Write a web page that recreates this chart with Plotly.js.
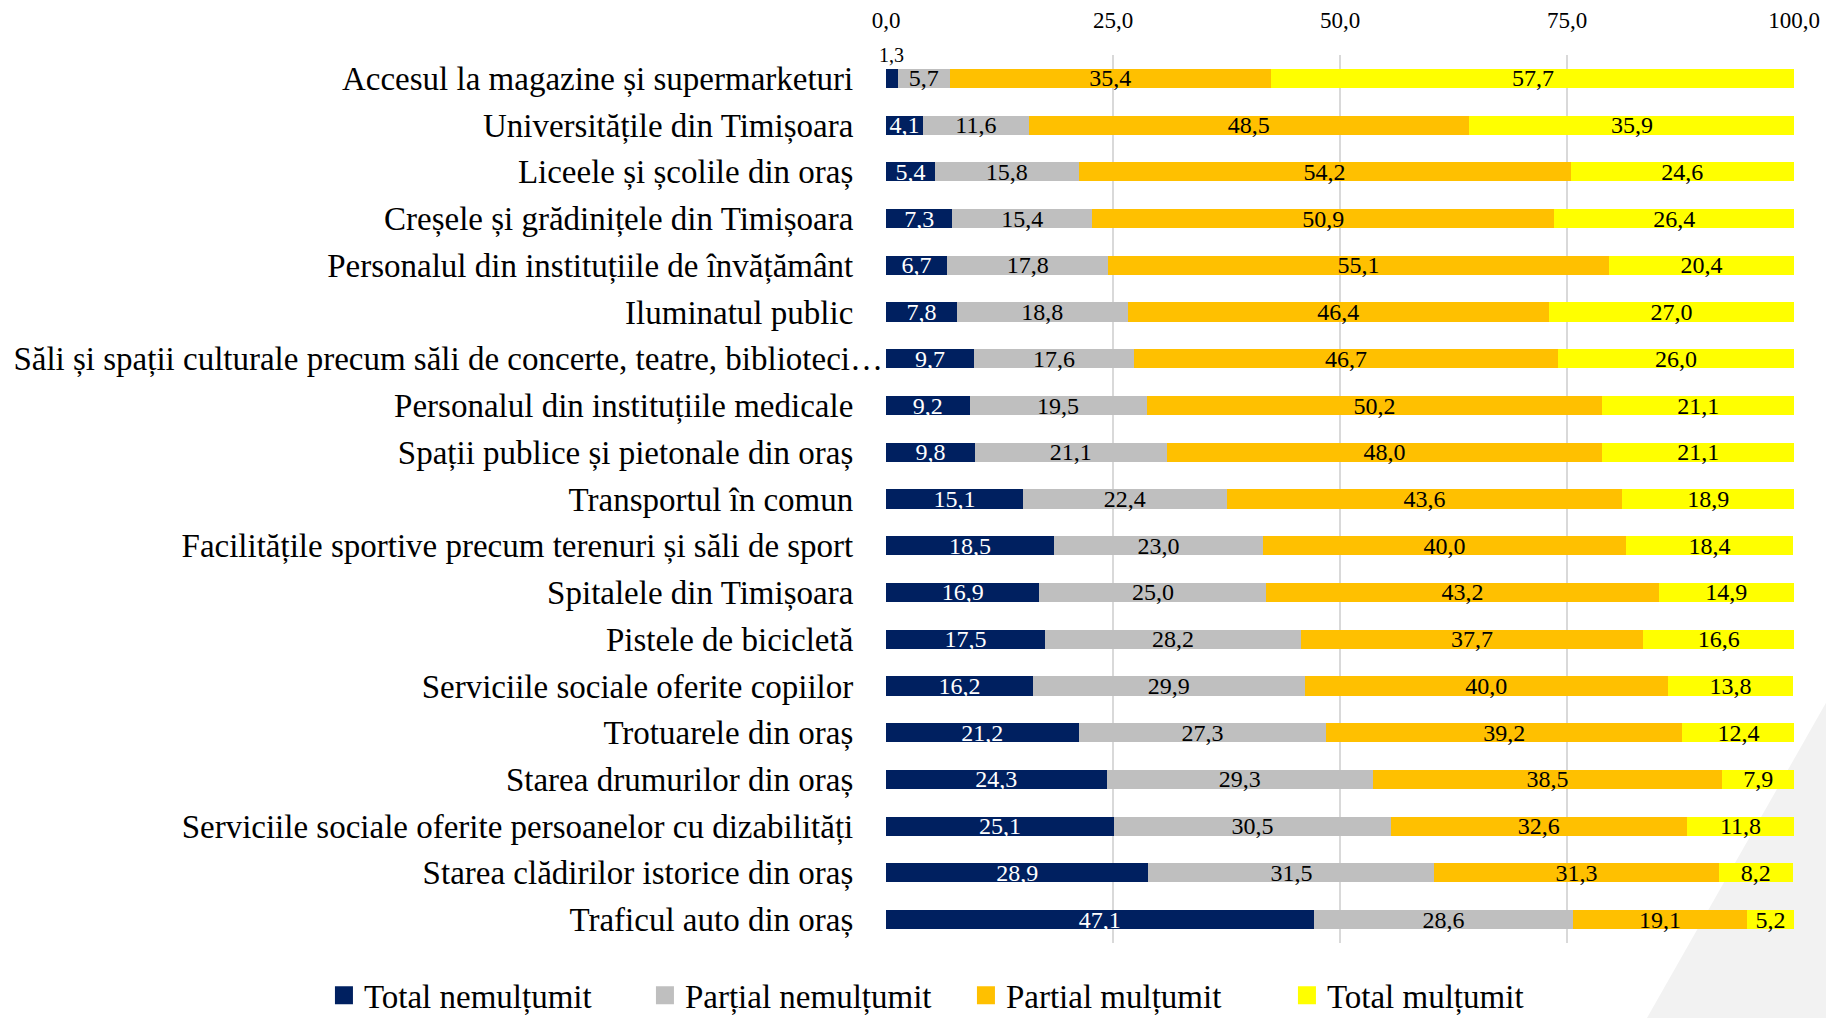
<!DOCTYPE html>
<html>
<head>
<meta charset="utf-8">
<script src="https://cdn.plot.ly/plotly-3.0.1.min.js"></script>
<style>html,body{margin:0;padding:0;background:#fff;}#chart{width:1826px;height:1018px;}</style>
</head>
<body>
<div id="chart"></div>
<script>
const categories = [
  "Accesul la magazine și supermarketuri",
  "Universitățile din Timișoara",
  "Liceele și școlile din oraș",
  "Creșele și grădinițele din Timișoara",
  "Personalul din instituțiile de învățământ",
  "Iluminatul public",
  "Săli și spații culturale precum săli de concerte, teatre, biblioteci…",
  "Personalul din instituțiile medicale",
  "Spații publice și pietonale din oraș",
  "Transportul în comun",
  "Facilitățile sportive precum terenuri și săli de sport",
  "Spitalele din Timișoara",
  "Pistele de bicicletă",
  "Serviciile sociale oferite copiilor",
  "Trotuarele din oraș",
  "Starea drumurilor din oraș",
  "Serviciile sociale oferite persoanelor cu dizabilități",
  "Starea clădirilor istorice din oraș",
  "Traficul auto din oraș"
];
const totalNemultumit   = [1.3, 4.1, 5.4, 7.3, 6.7, 7.8, 9.7, 9.2, 9.8, 15.1, 18.5, 16.9, 17.5, 16.2, 21.2, 24.3, 25.1, 28.9, 47.1];
const partialNemultumit = [5.7, 11.6, 15.8, 15.4, 17.8, 18.8, 17.6, 19.5, 21.1, 22.4, 23.0, 25.0, 28.2, 29.9, 27.3, 29.3, 30.5, 31.5, 28.6];
const partialMultumit   = [35.4, 48.5, 54.2, 50.9, 55.1, 46.4, 46.7, 50.2, 48.0, 43.6, 40.0, 43.2, 37.7, 40.0, 39.2, 38.5, 32.6, 31.3, 19.1];
const totalMultumit     = [57.7, 35.9, 24.6, 26.4, 20.4, 27.0, 26.0, 21.1, 21.1, 18.9, 18.4, 14.9, 16.6, 13.8, 12.4, 7.9, 11.8, 8.2, 5.2];
const seriesNames = ["Total nemulțumit", "Parțial nemulțumit", "Partial mulțumit", "Total mulțumit"];
const xTicks = [0, 25, 50, 75, 100];

const colors = ["#002060", "#BFBFBF", "#FFC000", "#FFFF00"];
const textColors = ["#ffffff", "#000000", "#000000", "#000000"];
const FONT = "Liberation Serif, Times New Roman, serif";
const fmt = v => v.toFixed(1).replace('.', ',');

// Labels that were truncated (ending with an ellipsis) sit closer to the axis
const PAD = "\u2002\u2009\u2009";
const tickText = categories.map(c => c.endsWith("…") ? c : c + PAD);

const allSeries = [totalNemultumit, partialNemultumit, partialMultumit, totalMultumit];
const traces = allSeries.map((vals, i) => ({
  type: 'bar',
  orientation: 'h',
  name: seriesNames[i],
  x: vals,
  y: categories,
  marker: {color: colors[i], line: {width: 0}},
  text: vals.map(v => (v < 3 ? '' : fmt(v))),
  textposition: 'inside',
  insidetextanchor: 'middle',
  constraintext: 'none',
  textfont: {family: FONT, size: 24, color: textColors[i]},
  hoverinfo: 'x+name'
}));

// small value labels that do not fit inside their segment
const annotations = [];
totalNemultumit.forEach((v, k) => {
  if (v < 3) {
    annotations.push({
      x: v / 2, y: categories[k], xref: 'x', yref: 'y',
      text: fmt(v), showarrow: false, yshift: 23,
      font: {family: FONT, size: 20, color: '#000'}
    });
  }
});

const layout = {
  width: 1826, height: 1018,
  margin: {l: 886, r: 32, t: 55, b: 75, autoexpand: false},
  barmode: 'stack',
  bargap: 0.59,
  separators: ',.',
  paper_bgcolor: '#ffffff',
  plot_bgcolor: 'rgba(0,0,0,0)',
  font: {family: FONT, color: '#000'},
  xaxis: {
    side: 'top',
    range: [0, 100],
    tickvals: xTicks,
    tickformat: '.1f',
    showgrid: true,
    gridcolor: '#D9D9D9',
    gridwidth: 1.5,
    zeroline: false,
    showline: false,
    ticks: '',
    ticklabelstandoff: 21,
    tickfont: {family: FONT, size: 23, color: '#000'},
    fixedrange: true
  },
  yaxis: {
    type: 'category',
    autorange: 'reversed',
    tickmode: 'array',
    tickvals: categories,
    ticktext: tickText,
    showgrid: false,
    zeroline: false,
    showline: false,
    ticks: '',
    ticklabelstandoff: 2,
    tickfont: {family: FONT, size: 33, color: '#000'},
    fixedrange: true
  },
  legend: {
    orientation: 'h',
    x: -0.619, xanchor: 'left',
    y: -0.059, yanchor: 'middle',
    font: {family: FONT, size: 33, color: '#000'},
    traceorder: 'normal',
    entrywidth: 276,
    entrywidthmode: 'pixels',
    bgcolor: 'rgba(0,0,0,0)'
  },
  showlegend: true,
  annotations: annotations,
  shapes: [{
    type: 'path',
    xref: 'paper', yref: 'paper',
    path: 'M 0.835 -0.09 L 1.05 0.297 L 1.05 -0.09 Z',
    fillcolor: '#F2F2F2',
    line: {width: 0},
    layer: 'below'
  }]
};

function enlargeLegendSymbols() {
  document.querySelectorAll('g.legend g.legendpoints path').forEach(p => {
    p.setAttribute('d', 'M9,9H-9V-9H9Z');
  });
}

Plotly.newPlot('chart', traces, layout, {displayModeBar: false, staticPlot: true}).then(gd => {
  enlargeLegendSymbols();
  setTimeout(enlargeLegendSymbols, 50);
  setTimeout(enlargeLegendSymbols, 300);
});
</script>
</body>
</html>
